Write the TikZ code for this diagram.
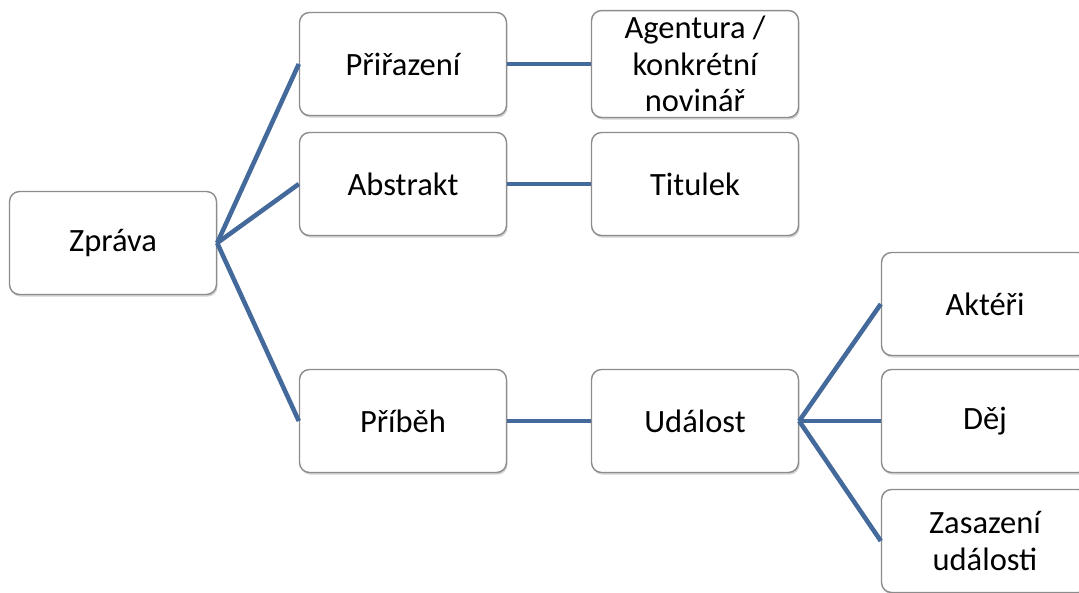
\documentclass[tikz,border=0pt]{standalone}
\usepackage{fontspec}
\setmainfont{Carlito}
\usetikzlibrary{shadows}

\definecolor{linkblue}{HTML}{44699B}
\definecolor{boxedge}{HTML}{8C8C8C}

\begin{document}
\begin{tikzpicture}[x=0.02cm, y=-0.02cm,
    box/.style={rectangle, rounded corners=0.2cm, draw=boxedge, line width=0.8pt, fill=white,
        minimum width=4.14cm, minimum height=2.06cm, align=center,
        font=\fontsize{18.5}{20.6}\selectfont,
        drop shadow={opacity=0.35, shadow xshift=0.6pt, shadow yshift=-1.2pt}},
    link/.style={draw=linkblue, line width=2.6pt}]

    \useasboundingbox (0,0) rectangle (1079,592);
    \clip (0,0) rectangle (1079,592);

    \node[box] (zprava) at (113, 243) {Zpráva};
    \node[box] (prirazeni) at (403, 64) {Přiřazení};
    \node[box] (abstrakt) at (403, 184) {Abstrakt};
    \node[box] (pribeh) at (403, 421) {Příběh};
    \node[box] (agentura) at (695, 64) {Agentura /\\konkrétní\\novinář};
    \node[box] (titulek) at (695, 184) {Titulek};
    \node[box] (udalost) at (695, 421) {Událost};
    \node[box] (akteri) at (985, 304) {Aktéři};
    \node[box] (dej) at (985, 421) {Děj};
    \node[box] (zasazeni) at (985, 541) {Zasazení\\události};
    % Edges from the root
    \draw[link] (zprava.east) -- (prirazeni.west); % Zprava to Prirazeni
    \draw[link] (zprava.east) -- (abstrakt.west); % Zprava to Abstrakt
    \draw[link] (zprava.east) -- (pribeh.west); % Zprava to Pribeh
    % Second level
    \draw[link] (prirazeni.east) -- (agentura.west); % Prirazeni to Agentura
    \draw[link] (abstrakt.east) -- (titulek.west); % Abstrakt to Titulek
    \draw[link] (pribeh.east) -- (udalost.west); % Pribeh to Udalost
    % Edges from Udalost
    \draw[link] (udalost.east) -- (akteri.west); % Udalost to Akteri
    \draw[link] (udalost.east) -- (dej.west); % Udalost to Dej
    \draw[link] (udalost.east) -- (zasazeni.west); % Udalost to Zasazeni
\end{tikzpicture}
\end{document}
